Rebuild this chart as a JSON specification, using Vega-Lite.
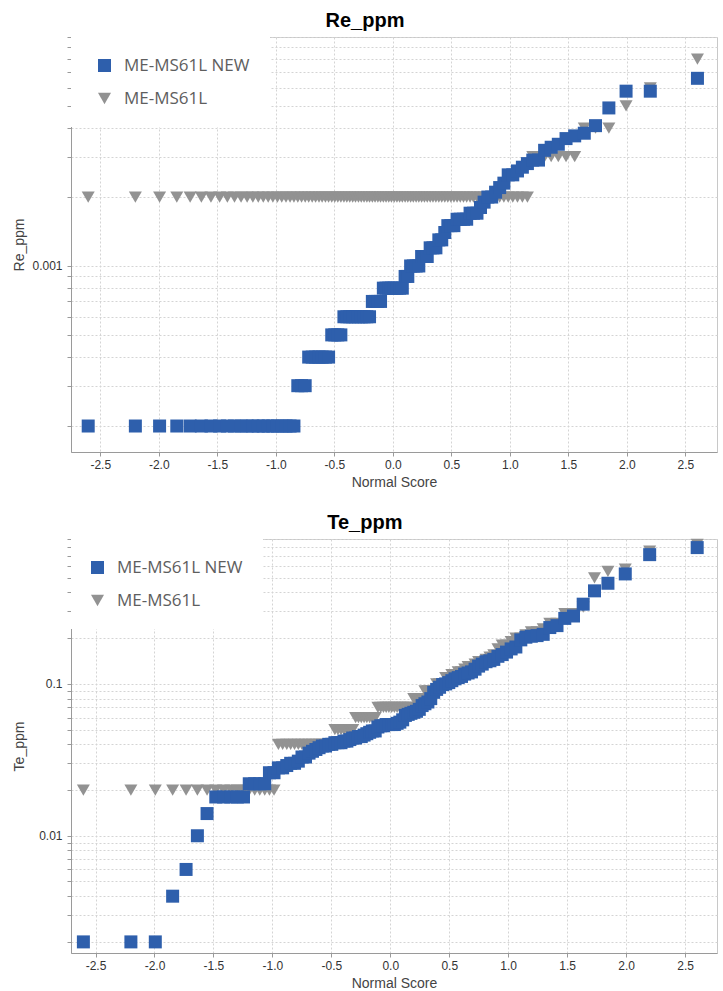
{
"$schema":"https://vega.github.io/schema/vega-lite/v6.json",
"padding":{"left":12,"top":10,"right":6,"bottom":0},
"spacing":22,
"columns":1,
"align":"none",
"resolve":{"scale":{"color":"independent","shape":"independent"},"legend":{"color":"independent","shape":"independent"}},
"config":{
"font":"Liberation Sans",
"view":{"stroke":"#c8c8c8"},
"axis":{"gridColor":"#d4d4d4","gridDash":[2,2],"domainColor":"#9a9a9a","tickColor":"#9a9a9a","tickSize":4,"labelFont":"Liberation Sans","labelFontSize":12,"labelColor":"#333333","titleFont":"Liberation Sans","titleFontSize":14,"titleFontWeight":"normal","titleColor":"#444444"},
"title":{"fontSize":20,"font":"Liberation Sans","fontWeight":"bold","color":"#000000","offset":6,"anchor":"middle","frame":"bounds"},
"legend":{"fillColor":"white","padding":20,"symbolOffset":5,"labelFont":"Open Sans","labelFontSize":17,"labelColor":"#5e5e5e","labelOffset":11,"rowPadding":15,"symbolSize":169,"symbolStrokeWidth":0,"labelLimit":300}
},
"datasets":{
"re":[
{"s":"ME-MS61L","z":-2.603,"v":0.002},{"s":"ME-MS61L","z":-2.2,"v":0.002},{"s":"ME-MS61L","z":-1.993,"v":0.002},{"s":"ME-MS61L","z":-1.846,"v":0.002},{"s":"ME-MS61L","z":-1.732,"v":0.002},{"s":"ME-MS61L","z":-1.636,"v":0.002},{"s":"ME-MS61L","z":-1.554,"v":0.002},{"s":"ME-MS61L","z":-1.48,"v":0.002},{"s":"ME-MS61L","z":-1.414,"v":0.002},{"s":"ME-MS61L","z":-1.353,"v":0.002},{"s":"ME-MS61L","z":-1.297,"v":0.002},{"s":"ME-MS61L","z":-1.245,"v":0.002},{"s":"ME-MS61L","z":-1.196,"v":0.002},{"s":"ME-MS61L","z":-1.15,"v":0.002},{"s":"ME-MS61L","z":-1.107,"v":0.002},{"s":"ME-MS61L","z":-1.065,"v":0.002},{"s":"ME-MS61L","z":-1.025,"v":0.002},{"s":"ME-MS61L","z":-0.986,"v":0.002},{"s":"ME-MS61L","z":-0.949,"v":0.002},{"s":"ME-MS61L","z":-0.913,"v":0.002},{"s":"ME-MS61L","z":-0.878,"v":0.002},{"s":"ME-MS61L","z":-0.845,"v":0.002},{"s":"ME-MS61L","z":-0.812,"v":0.002},{"s":"ME-MS61L","z":-0.78,"v":0.002},{"s":"ME-MS61L","z":-0.749,"v":0.002},{"s":"ME-MS61L","z":-0.719,"v":0.002},{"s":"ME-MS61L","z":-0.689,"v":0.002},{"s":"ME-MS61L","z":-0.66,"v":0.002},{"s":"ME-MS61L","z":-0.631,"v":0.002},{"s":"ME-MS61L","z":-0.604,"v":0.002},{"s":"ME-MS61L","z":-0.576,"v":0.002},{"s":"ME-MS61L","z":-0.549,"v":0.002},{"s":"ME-MS61L","z":-0.522,"v":0.002},{"s":"ME-MS61L","z":-0.496,"v":0.002},{"s":"ME-MS61L","z":-0.47,"v":0.002},{"s":"ME-MS61L","z":-0.444,"v":0.002},{"s":"ME-MS61L","z":-0.418,"v":0.002},{"s":"ME-MS61L","z":-0.393,"v":0.002},{"s":"ME-MS61L","z":-0.368,"v":0.002},{"s":"ME-MS61L","z":-0.343,"v":0.002},{"s":"ME-MS61L","z":-0.319,"v":0.002},{"s":"ME-MS61L","z":-0.294,"v":0.002},{"s":"ME-MS61L","z":-0.27,"v":0.002},{"s":"ME-MS61L","z":-0.246,"v":0.002},{"s":"ME-MS61L","z":-0.222,"v":0.002},{"s":"ME-MS61L","z":-0.199,"v":0.002},{"s":"ME-MS61L","z":-0.175,"v":0.002},{"s":"ME-MS61L","z":-0.152,"v":0.002},{"s":"ME-MS61L","z":-0.128,"v":0.002},{"s":"ME-MS61L","z":-0.105,"v":0.002},{"s":"ME-MS61L","z":-0.081,"v":0.002},{"s":"ME-MS61L","z":-0.058,"v":0.002},{"s":"ME-MS61L","z":-0.035,"v":0.002},{"s":"ME-MS61L","z":-0.012,"v":0.002},
{"s":"ME-MS61L","z":0.012,"v":0.002},{"s":"ME-MS61L","z":0.035,"v":0.002},{"s":"ME-MS61L","z":0.058,"v":0.002},{"s":"ME-MS61L","z":0.081,"v":0.002},{"s":"ME-MS61L","z":0.105,"v":0.002},{"s":"ME-MS61L","z":0.128,"v":0.002},{"s":"ME-MS61L","z":0.152,"v":0.002},{"s":"ME-MS61L","z":0.175,"v":0.002},{"s":"ME-MS61L","z":0.199,"v":0.002},{"s":"ME-MS61L","z":0.222,"v":0.002},{"s":"ME-MS61L","z":0.246,"v":0.002},{"s":"ME-MS61L","z":0.27,"v":0.002},{"s":"ME-MS61L","z":0.294,"v":0.002},{"s":"ME-MS61L","z":0.319,"v":0.002},{"s":"ME-MS61L","z":0.343,"v":0.002},{"s":"ME-MS61L","z":0.368,"v":0.002},{"s":"ME-MS61L","z":0.393,"v":0.002},{"s":"ME-MS61L","z":0.418,"v":0.002},{"s":"ME-MS61L","z":0.444,"v":0.002},{"s":"ME-MS61L","z":0.47,"v":0.002},{"s":"ME-MS61L","z":0.496,"v":0.002},{"s":"ME-MS61L","z":0.522,"v":0.002},{"s":"ME-MS61L","z":0.549,"v":0.002},{"s":"ME-MS61L","z":0.576,"v":0.002},{"s":"ME-MS61L","z":0.604,"v":0.002},{"s":"ME-MS61L","z":0.631,"v":0.002},{"s":"ME-MS61L","z":0.66,"v":0.002},{"s":"ME-MS61L","z":0.689,"v":0.002},{"s":"ME-MS61L","z":0.719,"v":0.002},{"s":"ME-MS61L","z":0.749,"v":0.002},{"s":"ME-MS61L","z":0.78,"v":0.002},{"s":"ME-MS61L","z":0.812,"v":0.002},{"s":"ME-MS61L","z":0.845,"v":0.002},{"s":"ME-MS61L","z":0.878,"v":0.002},{"s":"ME-MS61L","z":0.913,"v":0.002},{"s":"ME-MS61L","z":0.949,"v":0.002},{"s":"ME-MS61L","z":0.986,"v":0.002},{"s":"ME-MS61L","z":1.025,"v":0.002},{"s":"ME-MS61L","z":1.065,"v":0.002},{"s":"ME-MS61L","z":1.107,"v":0.002},{"s":"ME-MS61L","z":1.15,"v":0.002},{"s":"ME-MS61L","z":1.196,"v":0.003},{"s":"ME-MS61L","z":1.245,"v":0.003},{"s":"ME-MS61L","z":1.297,"v":0.003},{"s":"ME-MS61L","z":1.353,"v":0.003},{"s":"ME-MS61L","z":1.414,"v":0.003},{"s":"ME-MS61L","z":1.48,"v":0.003},{"s":"ME-MS61L","z":1.554,"v":0.003},{"s":"ME-MS61L","z":1.636,"v":0.004},{"s":"ME-MS61L","z":1.732,"v":0.004},{"s":"ME-MS61L","z":1.846,"v":0.004},{"s":"ME-MS61L","z":1.993,"v":0.005},{"s":"ME-MS61L","z":2.2,"v":0.006},{"s":"ME-MS61L","z":2.603,"v":0.008},
{"s":"ME-MS61L NEW","z":-2.603,"v":0.0002},{"s":"ME-MS61L NEW","z":-2.2,"v":0.0002},{"s":"ME-MS61L NEW","z":-1.993,"v":0.0002},{"s":"ME-MS61L NEW","z":-1.846,"v":0.0002},{"s":"ME-MS61L NEW","z":-1.732,"v":0.0002},{"s":"ME-MS61L NEW","z":-1.636,"v":0.0002},{"s":"ME-MS61L NEW","z":-1.554,"v":0.0002},{"s":"ME-MS61L NEW","z":-1.48,"v":0.0002},{"s":"ME-MS61L NEW","z":-1.414,"v":0.0002},{"s":"ME-MS61L NEW","z":-1.353,"v":0.0002},{"s":"ME-MS61L NEW","z":-1.297,"v":0.0002},{"s":"ME-MS61L NEW","z":-1.245,"v":0.0002},{"s":"ME-MS61L NEW","z":-1.196,"v":0.0002},{"s":"ME-MS61L NEW","z":-1.15,"v":0.0002},{"s":"ME-MS61L NEW","z":-1.107,"v":0.0002},{"s":"ME-MS61L NEW","z":-1.065,"v":0.0002},{"s":"ME-MS61L NEW","z":-1.025,"v":0.0002},{"s":"ME-MS61L NEW","z":-0.986,"v":0.0002},{"s":"ME-MS61L NEW","z":-0.949,"v":0.0002},{"s":"ME-MS61L NEW","z":-0.913,"v":0.0002},{"s":"ME-MS61L NEW","z":-0.878,"v":0.0002},{"s":"ME-MS61L NEW","z":-0.845,"v":0.0002},{"s":"ME-MS61L NEW","z":-0.812,"v":0.0003},{"s":"ME-MS61L NEW","z":-0.78,"v":0.0003},{"s":"ME-MS61L NEW","z":-0.749,"v":0.0003},{"s":"ME-MS61L NEW","z":-0.719,"v":0.0004},{"s":"ME-MS61L NEW","z":-0.689,"v":0.0004},{"s":"ME-MS61L NEW","z":-0.66,"v":0.0004},{"s":"ME-MS61L NEW","z":-0.631,"v":0.0004},{"s":"ME-MS61L NEW","z":-0.604,"v":0.0004},{"s":"ME-MS61L NEW","z":-0.576,"v":0.0004},{"s":"ME-MS61L NEW","z":-0.549,"v":0.0004},{"s":"ME-MS61L NEW","z":-0.522,"v":0.0005},{"s":"ME-MS61L NEW","z":-0.496,"v":0.0005},{"s":"ME-MS61L NEW","z":-0.47,"v":0.0005},{"s":"ME-MS61L NEW","z":-0.444,"v":0.0005},{"s":"ME-MS61L NEW","z":-0.418,"v":0.0006},{"s":"ME-MS61L NEW","z":-0.393,"v":0.0006},{"s":"ME-MS61L NEW","z":-0.368,"v":0.0006},{"s":"ME-MS61L NEW","z":-0.343,"v":0.0006},{"s":"ME-MS61L NEW","z":-0.319,"v":0.0006},{"s":"ME-MS61L NEW","z":-0.294,"v":0.0006},{"s":"ME-MS61L NEW","z":-0.27,"v":0.0006},{"s":"ME-MS61L NEW","z":-0.246,"v":0.0006},{"s":"ME-MS61L NEW","z":-0.222,"v":0.0006},{"s":"ME-MS61L NEW","z":-0.199,"v":0.0006},{"s":"ME-MS61L NEW","z":-0.175,"v":0.0007},{"s":"ME-MS61L NEW","z":-0.152,"v":0.0007},{"s":"ME-MS61L NEW","z":-0.128,"v":0.0007},{"s":"ME-MS61L NEW","z":-0.105,"v":0.0007},{"s":"ME-MS61L NEW","z":-0.081,"v":0.0008},{"s":"ME-MS61L NEW","z":-0.058,"v":0.0008},{"s":"ME-MS61L NEW","z":-0.035,"v":0.0008},{"s":"ME-MS61L NEW","z":-0.012,"v":0.0008},
{"s":"ME-MS61L NEW","z":0.012,"v":0.0008},{"s":"ME-MS61L NEW","z":0.035,"v":0.0008},{"s":"ME-MS61L NEW","z":0.058,"v":0.0008},{"s":"ME-MS61L NEW","z":0.081,"v":0.0008},{"s":"ME-MS61L NEW","z":0.105,"v":0.0009},{"s":"ME-MS61L NEW","z":0.128,"v":0.0009},{"s":"ME-MS61L NEW","z":0.152,"v":0.001},{"s":"ME-MS61L NEW","z":0.175,"v":0.001},{"s":"ME-MS61L NEW","z":0.199,"v":0.001},{"s":"ME-MS61L NEW","z":0.222,"v":0.001},{"s":"ME-MS61L NEW","z":0.246,"v":0.0011},{"s":"ME-MS61L NEW","z":0.27,"v":0.0011},{"s":"ME-MS61L NEW","z":0.294,"v":0.0011},{"s":"ME-MS61L NEW","z":0.319,"v":0.0012},{"s":"ME-MS61L NEW","z":0.343,"v":0.0012},{"s":"ME-MS61L NEW","z":0.368,"v":0.0012},{"s":"ME-MS61L NEW","z":0.393,"v":0.0013},{"s":"ME-MS61L NEW","z":0.418,"v":0.0013},{"s":"ME-MS61L NEW","z":0.444,"v":0.0014},{"s":"ME-MS61L NEW","z":0.47,"v":0.0015},{"s":"ME-MS61L NEW","z":0.496,"v":0.0015},{"s":"ME-MS61L NEW","z":0.522,"v":0.0015},{"s":"ME-MS61L NEW","z":0.549,"v":0.0016},{"s":"ME-MS61L NEW","z":0.576,"v":0.0016},{"s":"ME-MS61L NEW","z":0.604,"v":0.0016},{"s":"ME-MS61L NEW","z":0.631,"v":0.0016},{"s":"ME-MS61L NEW","z":0.66,"v":0.0017},{"s":"ME-MS61L NEW","z":0.689,"v":0.0017},{"s":"ME-MS61L NEW","z":0.719,"v":0.0017},{"s":"ME-MS61L NEW","z":0.749,"v":0.0018},{"s":"ME-MS61L NEW","z":0.78,"v":0.0019},{"s":"ME-MS61L NEW","z":0.812,"v":0.002},{"s":"ME-MS61L NEW","z":0.845,"v":0.002},{"s":"ME-MS61L NEW","z":0.878,"v":0.0021},{"s":"ME-MS61L NEW","z":0.913,"v":0.0022},{"s":"ME-MS61L NEW","z":0.949,"v":0.0023},{"s":"ME-MS61L NEW","z":0.986,"v":0.0025},{"s":"ME-MS61L NEW","z":1.025,"v":0.0025},{"s":"ME-MS61L NEW","z":1.065,"v":0.0026},{"s":"ME-MS61L NEW","z":1.107,"v":0.0027},{"s":"ME-MS61L NEW","z":1.15,"v":0.0028},{"s":"ME-MS61L NEW","z":1.196,"v":0.0029},{"s":"ME-MS61L NEW","z":1.245,"v":0.0029},{"s":"ME-MS61L NEW","z":1.297,"v":0.0032},{"s":"ME-MS61L NEW","z":1.353,"v":0.0033},{"s":"ME-MS61L NEW","z":1.414,"v":0.0034},{"s":"ME-MS61L NEW","z":1.48,"v":0.0036},{"s":"ME-MS61L NEW","z":1.554,"v":0.0037},{"s":"ME-MS61L NEW","z":1.636,"v":0.0038},{"s":"ME-MS61L NEW","z":1.732,"v":0.0041},{"s":"ME-MS61L NEW","z":1.846,"v":0.0049},{"s":"ME-MS61L NEW","z":1.993,"v":0.0058},{"s":"ME-MS61L NEW","z":2.2,"v":0.0058},{"s":"ME-MS61L NEW","z":2.603,"v":0.0066}
],
"te":[
{"s":"ME-MS61L","z":-2.603,"v":0.02},{"s":"ME-MS61L","z":-2.2,"v":0.02},{"s":"ME-MS61L","z":-1.993,"v":0.02},{"s":"ME-MS61L","z":-1.846,"v":0.02},{"s":"ME-MS61L","z":-1.732,"v":0.02},{"s":"ME-MS61L","z":-1.636,"v":0.02},{"s":"ME-MS61L","z":-1.554,"v":0.02},{"s":"ME-MS61L","z":-1.48,"v":0.02},{"s":"ME-MS61L","z":-1.414,"v":0.02},{"s":"ME-MS61L","z":-1.353,"v":0.02},{"s":"ME-MS61L","z":-1.297,"v":0.02},{"s":"ME-MS61L","z":-1.245,"v":0.02},{"s":"ME-MS61L","z":-1.196,"v":0.02},{"s":"ME-MS61L","z":-1.15,"v":0.02},{"s":"ME-MS61L","z":-1.107,"v":0.02},{"s":"ME-MS61L","z":-1.065,"v":0.02},{"s":"ME-MS61L","z":-1.025,"v":0.02},{"s":"ME-MS61L","z":-0.986,"v":0.02},{"s":"ME-MS61L","z":-0.949,"v":0.04},{"s":"ME-MS61L","z":-0.913,"v":0.04},{"s":"ME-MS61L","z":-0.878,"v":0.04},{"s":"ME-MS61L","z":-0.845,"v":0.04},{"s":"ME-MS61L","z":-0.812,"v":0.04},{"s":"ME-MS61L","z":-0.78,"v":0.04},{"s":"ME-MS61L","z":-0.749,"v":0.04},{"s":"ME-MS61L","z":-0.719,"v":0.04},{"s":"ME-MS61L","z":-0.689,"v":0.04},{"s":"ME-MS61L","z":-0.66,"v":0.04},{"s":"ME-MS61L","z":-0.631,"v":0.04},{"s":"ME-MS61L","z":-0.604,"v":0.04},{"s":"ME-MS61L","z":-0.576,"v":0.04},{"s":"ME-MS61L","z":-0.549,"v":0.04},{"s":"ME-MS61L","z":-0.522,"v":0.04},{"s":"ME-MS61L","z":-0.496,"v":0.04},{"s":"ME-MS61L","z":-0.47,"v":0.05},{"s":"ME-MS61L","z":-0.444,"v":0.05},{"s":"ME-MS61L","z":-0.418,"v":0.05},{"s":"ME-MS61L","z":-0.393,"v":0.05},{"s":"ME-MS61L","z":-0.368,"v":0.05},{"s":"ME-MS61L","z":-0.343,"v":0.05},{"s":"ME-MS61L","z":-0.319,"v":0.05},{"s":"ME-MS61L","z":-0.294,"v":0.06},{"s":"ME-MS61L","z":-0.27,"v":0.06},{"s":"ME-MS61L","z":-0.246,"v":0.06},{"s":"ME-MS61L","z":-0.222,"v":0.06},{"s":"ME-MS61L","z":-0.199,"v":0.06},{"s":"ME-MS61L","z":-0.175,"v":0.06},{"s":"ME-MS61L","z":-0.152,"v":0.06},{"s":"ME-MS61L","z":-0.128,"v":0.06},{"s":"ME-MS61L","z":-0.105,"v":0.07},{"s":"ME-MS61L","z":-0.081,"v":0.07},{"s":"ME-MS61L","z":-0.058,"v":0.07},{"s":"ME-MS61L","z":-0.035,"v":0.07},{"s":"ME-MS61L","z":-0.012,"v":0.07},
{"s":"ME-MS61L","z":0.012,"v":0.07},{"s":"ME-MS61L","z":0.035,"v":0.07},{"s":"ME-MS61L","z":0.058,"v":0.07},{"s":"ME-MS61L","z":0.081,"v":0.07},{"s":"ME-MS61L","z":0.105,"v":0.07},{"s":"ME-MS61L","z":0.128,"v":0.07},{"s":"ME-MS61L","z":0.152,"v":0.07},{"s":"ME-MS61L","z":0.175,"v":0.07},{"s":"ME-MS61L","z":0.199,"v":0.08},{"s":"ME-MS61L","z":0.222,"v":0.08},{"s":"ME-MS61L","z":0.246,"v":0.08},{"s":"ME-MS61L","z":0.27,"v":0.08},{"s":"ME-MS61L","z":0.294,"v":0.09},{"s":"ME-MS61L","z":0.319,"v":0.09},{"s":"ME-MS61L","z":0.343,"v":0.09},{"s":"ME-MS61L","z":0.368,"v":0.09},{"s":"ME-MS61L","z":0.393,"v":0.1},{"s":"ME-MS61L","z":0.418,"v":0.1},{"s":"ME-MS61L","z":0.444,"v":0.1},{"s":"ME-MS61L","z":0.47,"v":0.11},{"s":"ME-MS61L","z":0.496,"v":0.11},{"s":"ME-MS61L","z":0.522,"v":0.115},{"s":"ME-MS61L","z":0.549,"v":0.115},{"s":"ME-MS61L","z":0.576,"v":0.12},{"s":"ME-MS61L","z":0.604,"v":0.12},{"s":"ME-MS61L","z":0.631,"v":0.125},{"s":"ME-MS61L","z":0.66,"v":0.13},{"s":"ME-MS61L","z":0.689,"v":0.13},{"s":"ME-MS61L","z":0.719,"v":0.135},{"s":"ME-MS61L","z":0.749,"v":0.14},{"s":"ME-MS61L","z":0.78,"v":0.14},{"s":"ME-MS61L","z":0.812,"v":0.145},{"s":"ME-MS61L","z":0.845,"v":0.15},{"s":"ME-MS61L","z":0.878,"v":0.155},{"s":"ME-MS61L","z":0.913,"v":0.17},{"s":"ME-MS61L","z":0.949,"v":0.18},{"s":"ME-MS61L","z":0.986,"v":0.18},{"s":"ME-MS61L","z":1.025,"v":0.19},{"s":"ME-MS61L","z":1.065,"v":0.2},{"s":"ME-MS61L","z":1.107,"v":0.2},{"s":"ME-MS61L","z":1.15,"v":0.21},{"s":"ME-MS61L","z":1.196,"v":0.22},{"s":"ME-MS61L","z":1.245,"v":0.22},{"s":"ME-MS61L","z":1.297,"v":0.23},{"s":"ME-MS61L","z":1.353,"v":0.25},{"s":"ME-MS61L","z":1.414,"v":0.25},{"s":"ME-MS61L","z":1.48,"v":0.29},{"s":"ME-MS61L","z":1.554,"v":0.29},{"s":"ME-MS61L","z":1.636,"v":0.32},{"s":"ME-MS61L","z":1.732,"v":0.5},{"s":"ME-MS61L","z":1.846,"v":0.55},{"s":"ME-MS61L","z":1.993,"v":0.57},{"s":"ME-MS61L","z":2.2,"v":0.75},{"s":"ME-MS61L","z":2.603,"v":0.83},
{"s":"ME-MS61L NEW","z":-2.603,"v":0.002},{"s":"ME-MS61L NEW","z":-2.2,"v":0.002},{"s":"ME-MS61L NEW","z":-1.993,"v":0.002},{"s":"ME-MS61L NEW","z":-1.846,"v":0.004},{"s":"ME-MS61L NEW","z":-1.732,"v":0.006},{"s":"ME-MS61L NEW","z":-1.636,"v":0.01},{"s":"ME-MS61L NEW","z":-1.554,"v":0.014},{"s":"ME-MS61L NEW","z":-1.48,"v":0.018},{"s":"ME-MS61L NEW","z":-1.414,"v":0.018},{"s":"ME-MS61L NEW","z":-1.353,"v":0.018},{"s":"ME-MS61L NEW","z":-1.297,"v":0.018},{"s":"ME-MS61L NEW","z":-1.245,"v":0.018},{"s":"ME-MS61L NEW","z":-1.196,"v":0.022},{"s":"ME-MS61L NEW","z":-1.15,"v":0.022},{"s":"ME-MS61L NEW","z":-1.107,"v":0.022},{"s":"ME-MS61L NEW","z":-1.065,"v":0.022},{"s":"ME-MS61L NEW","z":-1.025,"v":0.026},{"s":"ME-MS61L NEW","z":-0.986,"v":0.026},{"s":"ME-MS61L NEW","z":-0.949,"v":0.028},{"s":"ME-MS61L NEW","z":-0.913,"v":0.028},{"s":"ME-MS61L NEW","z":-0.878,"v":0.029},{"s":"ME-MS61L NEW","z":-0.845,"v":0.03},{"s":"ME-MS61L NEW","z":-0.812,"v":0.03},{"s":"ME-MS61L NEW","z":-0.78,"v":0.031},{"s":"ME-MS61L NEW","z":-0.749,"v":0.033},{"s":"ME-MS61L NEW","z":-0.719,"v":0.033},{"s":"ME-MS61L NEW","z":-0.689,"v":0.035},{"s":"ME-MS61L NEW","z":-0.66,"v":0.036},{"s":"ME-MS61L NEW","z":-0.631,"v":0.037},{"s":"ME-MS61L NEW","z":-0.604,"v":0.038},{"s":"ME-MS61L NEW","z":-0.576,"v":0.039},{"s":"ME-MS61L NEW","z":-0.549,"v":0.039},{"s":"ME-MS61L NEW","z":-0.522,"v":0.04},{"s":"ME-MS61L NEW","z":-0.496,"v":0.04},{"s":"ME-MS61L NEW","z":-0.47,"v":0.041},{"s":"ME-MS61L NEW","z":-0.444,"v":0.041},{"s":"ME-MS61L NEW","z":-0.418,"v":0.041},{"s":"ME-MS61L NEW","z":-0.393,"v":0.042},{"s":"ME-MS61L NEW","z":-0.368,"v":0.042},{"s":"ME-MS61L NEW","z":-0.343,"v":0.043},{"s":"ME-MS61L NEW","z":-0.319,"v":0.044},{"s":"ME-MS61L NEW","z":-0.294,"v":0.044},{"s":"ME-MS61L NEW","z":-0.27,"v":0.045},{"s":"ME-MS61L NEW","z":-0.246,"v":0.045},{"s":"ME-MS61L NEW","z":-0.222,"v":0.046},{"s":"ME-MS61L NEW","z":-0.199,"v":0.047},{"s":"ME-MS61L NEW","z":-0.175,"v":0.048},{"s":"ME-MS61L NEW","z":-0.152,"v":0.049},{"s":"ME-MS61L NEW","z":-0.128,"v":0.049},{"s":"ME-MS61L NEW","z":-0.105,"v":0.052},{"s":"ME-MS61L NEW","z":-0.081,"v":0.053},{"s":"ME-MS61L NEW","z":-0.058,"v":0.053},{"s":"ME-MS61L NEW","z":-0.035,"v":0.054},{"s":"ME-MS61L NEW","z":-0.012,"v":0.054},
{"s":"ME-MS61L NEW","z":0.012,"v":0.054},{"s":"ME-MS61L NEW","z":0.035,"v":0.054},{"s":"ME-MS61L NEW","z":0.058,"v":0.055},{"s":"ME-MS61L NEW","z":0.081,"v":0.056},{"s":"ME-MS61L NEW","z":0.105,"v":0.058},{"s":"ME-MS61L NEW","z":0.128,"v":0.062},{"s":"ME-MS61L NEW","z":0.152,"v":0.063},{"s":"ME-MS61L NEW","z":0.175,"v":0.064},{"s":"ME-MS61L NEW","z":0.199,"v":0.065},{"s":"ME-MS61L NEW","z":0.222,"v":0.066},{"s":"ME-MS61L NEW","z":0.246,"v":0.068},{"s":"ME-MS61L NEW","z":0.27,"v":0.072},{"s":"ME-MS61L NEW","z":0.294,"v":0.074},{"s":"ME-MS61L NEW","z":0.319,"v":0.076},{"s":"ME-MS61L NEW","z":0.343,"v":0.08},{"s":"ME-MS61L NEW","z":0.368,"v":0.088},{"s":"ME-MS61L NEW","z":0.393,"v":0.092},{"s":"ME-MS61L NEW","z":0.418,"v":0.095},{"s":"ME-MS61L NEW","z":0.444,"v":0.099},{"s":"ME-MS61L NEW","z":0.47,"v":0.1},{"s":"ME-MS61L NEW","z":0.496,"v":0.102},{"s":"ME-MS61L NEW","z":0.522,"v":0.105},{"s":"ME-MS61L NEW","z":0.549,"v":0.108},{"s":"ME-MS61L NEW","z":0.576,"v":0.11},{"s":"ME-MS61L NEW","z":0.604,"v":0.112},{"s":"ME-MS61L NEW","z":0.631,"v":0.116},{"s":"ME-MS61L NEW","z":0.66,"v":0.118},{"s":"ME-MS61L NEW","z":0.689,"v":0.12},{"s":"ME-MS61L NEW","z":0.719,"v":0.125},{"s":"ME-MS61L NEW","z":0.749,"v":0.131},{"s":"ME-MS61L NEW","z":0.78,"v":0.135},{"s":"ME-MS61L NEW","z":0.812,"v":0.14},{"s":"ME-MS61L NEW","z":0.845,"v":0.142},{"s":"ME-MS61L NEW","z":0.878,"v":0.145},{"s":"ME-MS61L NEW","z":0.913,"v":0.152},{"s":"ME-MS61L NEW","z":0.949,"v":0.156},{"s":"ME-MS61L NEW","z":0.986,"v":0.162},{"s":"ME-MS61L NEW","z":1.025,"v":0.17},{"s":"ME-MS61L NEW","z":1.065,"v":0.175},{"s":"ME-MS61L NEW","z":1.107,"v":0.195},{"s":"ME-MS61L NEW","z":1.15,"v":0.203},{"s":"ME-MS61L NEW","z":1.196,"v":0.206},{"s":"ME-MS61L NEW","z":1.245,"v":0.208},{"s":"ME-MS61L NEW","z":1.297,"v":0.212},{"s":"ME-MS61L NEW","z":1.353,"v":0.235},{"s":"ME-MS61L NEW","z":1.414,"v":0.242},{"s":"ME-MS61L NEW","z":1.48,"v":0.27},{"s":"ME-MS61L NEW","z":1.554,"v":0.28},{"s":"ME-MS61L NEW","z":1.636,"v":0.335},{"s":"ME-MS61L NEW","z":1.732,"v":0.41},{"s":"ME-MS61L NEW","z":1.846,"v":0.46},{"s":"ME-MS61L NEW","z":1.993,"v":0.53},{"s":"ME-MS61L NEW","z":2.2,"v":0.71},{"s":"ME-MS61L NEW","z":2.603,"v":0.79}
]
},
"concat":[
{
"title":"Re_ppm",
"width":646,"height":415,
"data":{"name":"re"},
"mark":{"type":"point","filled":true,"opacity":1,"size":169},
"encoding":{
"x":{"field":"z","type":"quantitative","scale":{"domain":[-2.75,2.77],"nice":false,"zero":false},"axis":{"title":"Normal Score","values":[-2.5,-2,-1.5,-1,-0.5,0,0.5,1,1.5,2,2.5],"labelExpr":"datum.value < 0 ? '-' + format(-datum.value, '.1f') : format(datum.value, '.1f')","labelPadding":3,"titlePadding":5}},
"y":{"field":"v","type":"quantitative","scale":{"type":"log","domain":[0.000154,0.01],"nice":false},"axis":{"title":"Re_ppm","values":[0.0002,0.0003,0.0004,0.0005,0.0006,0.0007,0.0008,0.0009,0.001,0.002,0.003,0.004,0.005,0.006,0.007,0.008,0.009,0.01],"labelExpr":"datum.value == 0.001 ? '0.001' : ''","labelPadding":5,"titlePadding":5}},
"color":{"field":"s","type":"nominal","scale":{"domain":["ME-MS61L NEW","ME-MS61L"],"range":["#2E5FAC","#929292"]},"legend":{"title":null,"orient":"none","legendX":0,"legendY":0}},
"shape":{"field":"s","type":"nominal","scale":{"domain":["ME-MS61L NEW","ME-MS61L"],"range":["square","triangle-down"]},"legend":{"title":null,"orient":"none","legendX":0,"legendY":0}}
}
},
{
"title":"Te_ppm",
"width":646,"height":414,
"data":{"name":"te"},
"mark":{"type":"point","filled":true,"opacity":1,"size":169},
"encoding":{
"x":{"field":"z","type":"quantitative","scale":{"domain":[-2.708,2.771],"nice":false,"zero":false},"axis":{"title":"Normal Score","values":[-2.5,-2,-1.5,-1,-0.5,0,0.5,1,1.5,2,2.5],"labelExpr":"datum.value < 0 ? '-' + format(-datum.value, '.1f') : format(datum.value, '.1f')","labelPadding":3,"titlePadding":5}},
"y":{"field":"v","type":"quantitative","scale":{"type":"log","domain":[0.00169,0.9],"nice":false},"axis":{"title":"Te_ppm","values":[0.002,0.003,0.004,0.005,0.006,0.007,0.008,0.009,0.01,0.02,0.03,0.04,0.05,0.06,0.07,0.08,0.09,0.1,0.2,0.3,0.4,0.5,0.6,0.7,0.8,0.9],"labelExpr":"datum.value == 0.1 ? '0.1' : (datum.value == 0.01 ? '0.01' : '')","labelPadding":5,"titlePadding":12}},
"color":{"field":"s","type":"nominal","scale":{"domain":["ME-MS61L NEW","ME-MS61L"],"range":["#2E5FAC","#929292"]},"legend":{"title":null,"orient":"none","legendX":0,"legendY":0,"symbolOffset":-2}},
"shape":{"field":"s","type":"nominal","scale":{"domain":["ME-MS61L NEW","ME-MS61L"],"range":["square","triangle-down"]},"legend":{"title":null,"orient":"none","legendX":0,"legendY":0,"symbolOffset":-2}}
}
}
]
}
